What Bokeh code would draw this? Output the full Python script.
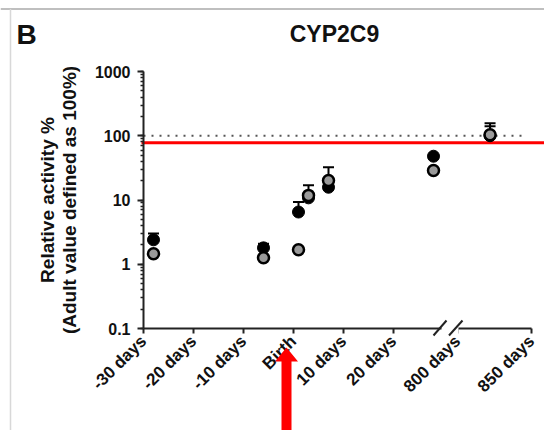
import math
from bokeh.plotting import figure
from bokeh.models import (Range1d, FixedTicker, Label, Arrow, PolyAnnotation,
                          BoxAnnotation, CustomJSTickFormatter, LogTicker)
from bokeh.embed import file_html
from bokeh.resources import INLINE

nan = float("nan")

# ---------------- data ----------------
days = [-28, -6, 1, 3, 7, 28, 822]
black_mean = [2.4, 1.8, 6.5, 10.8, 15.8, 48.0, 100.0]
black_upper = [3.0, 2.08, 9.3, nan, nan, nan, 140.0]
grey_mean = [1.46, 1.26, 1.68, 11.8, 20.1, 28.8, 104.0]
grey_upper = [nan, nan, nan, 16.9, 32.3, nan, 157.0]

tick_days = [-30, -20, -10, 0, 10, 20, 800, 850]
tick_labels = ["-30 days", "-20 days", "-10 days", "Birth", "10 days",
               "20 days", "800 days", "850 days"]
adult_level = 100
red_level = 78
y_lo, y_hi = 0.1, 1000

# ---------------- broken x axis mapping ----------------
SEG2_START = 32.8
SEG2_SCALE = 0.296


def to_axis(d):
    return d if d < 400 else SEG2_START + (d - 800) * SEG2_SCALE


xs = [to_axis(d) for d in days]
tick_pos = [to_axis(d) for d in tick_days]

# ---------------- canvas geometry ----------------
W, H = 544, 430
X_ZERO_PX, PX_PER_DAY = 293.0, 5.0
Y_LO_PX, DEC_PX = 328.0, 64.25
FONT = "Liberation Sans"


def xpx(px):
    return (px - X_ZERO_PX) / PX_PER_DAY


def ypx(px):
    return y_lo * 10 ** ((Y_LO_PX - px) / DEC_PX)


p = figure(width=W, height=H, output_backend="svg", toolbar_location=None,
           x_range=Range1d(xpx(0), xpx(W)), y_range=Range1d(ypx(H), ypx(0)),
           y_axis_type="log",
           min_border_left=0, min_border_right=0,
           min_border_top=0, min_border_bottom=0)
p.grid.visible = False
p.outline_line_color = None
p.background_fill_color = "white"
p.border_fill_color = "white"

# ---- x axis ----
xa = p.xaxis[0]
xa.fixed_location = y_lo
xa.ticker = FixedTicker(ticks=tick_pos)
xa.formatter = CustomJSTickFormatter(args=dict(pos=tick_pos, labs=tick_labels), code="""
let best = 0;
for (let i = 0; i < pos.length; i++) {
  if (Math.abs(pos[i] - tick) < Math.abs(pos[best] - tick)) best = i;
}
return labs[best];
""")
xa.bounds = (to_axis(-30), to_axis(850))
xa.major_label_orientation = math.pi / 4
xa.major_label_text_font = FONT
xa.major_label_text_font_size = "17px"
xa.major_label_text_font_style = "bold"
xa.major_label_text_color = "#111111"
xa.major_label_standoff = 5
xa.axis_line_width = 2
xa.axis_line_color = "#222222"
xa.major_tick_line_width = 2
xa.major_tick_line_color = "#222222"
xa.major_tick_out = 5
xa.major_tick_in = 0
xa.minor_tick_line_color = None

# ---- y axis ----
ya = p.yaxis[0]
ya.fixed_location = to_axis(-30)
ya.bounds = (y_lo, y_hi)
ya.ticker = LogTicker(num_minor_ticks=10)
ya.formatter = CustomJSTickFormatter(code="return String(Number(tick.toPrecision(3)));")
ya.axis_label = "Relative activity %\n(Adult value defined as 100%)"
ya.axis_label_text_font = FONT
ya.axis_label_text_font_size = "19px"
ya.axis_label_text_font_style = "bold"
ya.axis_label_text_color = "#111111"
ya.axis_label_text_line_height = 1.05
ya.axis_label_standoff = 12
ya.major_label_text_font = FONT
ya.major_label_text_font_size = "16px"
ya.major_label_text_font_style = "bold"
ya.major_label_text_color = "#111111"
ya.major_label_standoff = 7
ya.axis_line_width = 2
ya.axis_line_color = "#222222"
ya.major_tick_line_width = 2
ya.major_tick_line_color = "#222222"
ya.major_tick_out = 6
ya.major_tick_in = 0
ya.minor_tick_line_width = 1.5
ya.minor_tick_line_color = "#222222"
ya.minor_tick_out = 3
ya.minor_tick_in = 0

# ---- reference lines ----
p.line([to_axis(-30), to_axis(846)], [adult_level, adult_level], line_dash="2 6",
       line_width=2, line_color="#555555")
p.line([xpx(141), xpx(W)], [red_level, red_level], line_color="#ff0000",
       line_width=3)

# ---- error bars ----
for mean, upper in ((black_mean, black_upper), (grey_mean, grey_upper)):
    p.segment(x0=xs, y0=mean, x1=xs, y1=upper, line_color="black", line_width=2)
    p.scatter(xs, upper, marker="dash", size=11, line_color="black", line_width=2)

# ---- points ----
p.scatter(xs, black_mean, size=12, fill_color="black", line_color="black")
p.scatter(xs, grey_mean, size=11, fill_color="#9a9a9a", line_color="black",
          line_width=2.5)

# ---- axis break ----
p.add_layout(BoxAnnotation(left=xpx(441), right=xpx(458), bottom=ypx(337),
                           top=ypx(325), fill_color="white", fill_alpha=1,
                           line_color=None, level="annotation"))
for (ax0, ax1) in ((433, 446), (448.5, 462)):
    p.add_layout(Arrow(start=None, end=None, x_start=xpx(ax0), x_end=xpx(ax1),
                       y_start=ypx(335), y_end=ypx(320),
                       line_color="#222222", line_width=2))

# ---- red arrow pointing at birth ----
cx = xpx(286)
shaft, head = 5 / PX_PER_DAY, 11.5 / PX_PER_DAY
p.add_layout(PolyAnnotation(
    xs=[cx - shaft, cx - shaft, cx - head, cx, cx + head, cx + shaft, cx + shaft],
    ys=[ypx(H + 10), ypx(361), ypx(361), ypx(347), ypx(361), ypx(361), ypx(H + 10)],
    fill_color="#ff0000", fill_alpha=1, line_color=None))

# ---- titles ----
p.add_layout(Label(x=xpx(334), y=ypx(33), text="CYP2C9", text_align="center",
                   text_baseline="alphabetic", text_font=FONT,
                   text_font_size="23px", text_font_style="bold",
                   text_color="#111111"))
p.add_layout(Label(x=xpx(16), y=ypx(34), text="B", text_align="left",
                   text_baseline="alphabetic", text_font=FONT,
                   text_font_size="28px", text_font_style="bold",
                   text_color="#111111"))

# ---- screenshot frame lines ----
p.add_layout(Arrow(start=None, end=None, x_start=xpx(0), x_end=xpx(W),
                   y_start=ypx(8.5), y_end=ypx(8.5),
                   line_color="#aaaaaa", line_width=1.5))
p.add_layout(Arrow(start=None, end=None, x_start=xpx(10), x_end=xpx(10),
                   y_start=ypx(8.5), y_end=ypx(H + 10),
                   line_color="#d8d8d8", line_width=1.5))

open("out.html", "w").write(file_html(p, INLINE))
